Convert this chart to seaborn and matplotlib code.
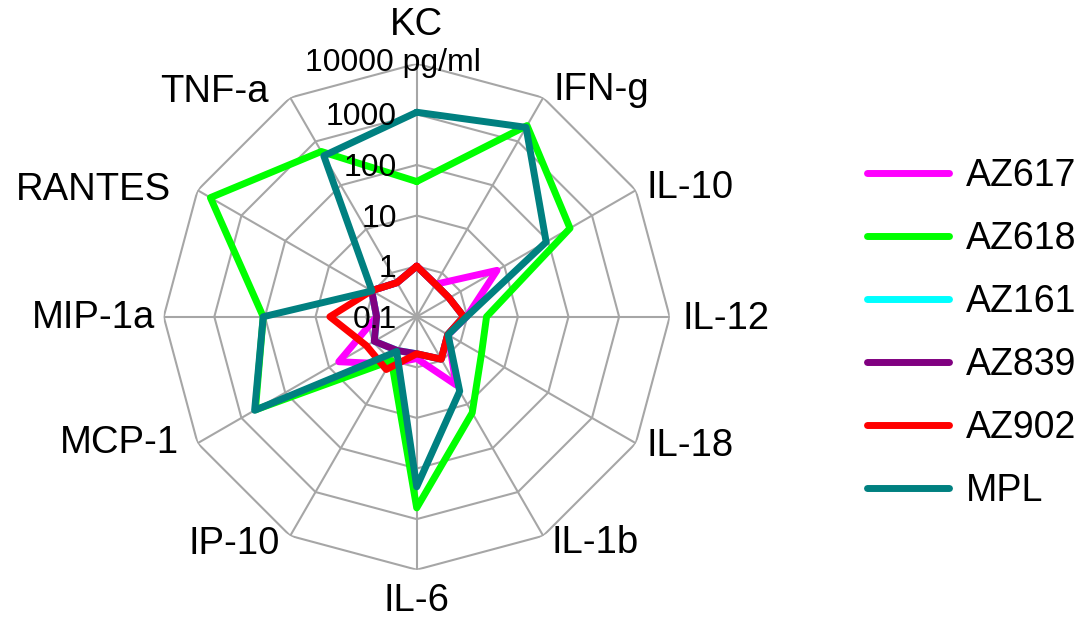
import numpy as np
import pandas as pd
import matplotlib
matplotlib.use("Agg")
import matplotlib.pyplot as plt
from matplotlib.lines import Line2D
import seaborn as sns

# Cytokine panel, clockwise from the top
categories = ["KC", "IFN-g", "IL-10", "IL-12", "IL-18", "IL-1b",
              "IL-6", "IP-10", "MCP-1", "MIP-1a", "RANTES", "TNF-a"]

# Concentrations in pg/ml
az617 = [1.0, 0.55, 6.8, 0.97, 0.52, 3.6, 0.67, 1.2, 6.0, 0.62, 1.07, 0.6]
az618 = [47, 2300, 315, 2.4, 3.0, 15.6, 600, 1.0, 480, 108, 5100, 590]
az161 = [1.0, 0.55, 0.55, 0.85, 0.51, 0.93, 0.54, 0.59, 0.93, 0.62, 1.07, 0.6]
az839 = [1.0, 0.55, 0.55, 0.85, 0.51, 0.93, 0.54, 0.59, 0.93, 0.62, 1.07, 0.6]
az902 = [1.0, 0.55, 0.55, 0.85, 0.51, 0.93, 0.54, 1.6, 1.4, 5.2, 1.07, 0.6]
mpl = [1100, 2100, 90, 0.97, 0.52, 5.0, 230, 0.62, 500, 108, 1.05, 470]

series_names = ["AZ617", "AZ618", "AZ161", "AZ839", "AZ902", "MPL"]
series_values = [az617, az618, az161, az839, az902, mpl]
series_colors = ["#ff00ff", "#00ff00", "#00ffff", "#800080", "#ff0000", "#008080"]

ring_values = [0.1, 1, 10, 100, 1000, 10000]
ring_labels = ["0.1", "1", "10", "100", "1000", "10000 pg/ml"]

sns.set_theme(style="white")
plt.rcParams["font.family"] = ["Liberation Sans", "DejaVu Sans"]
plt.rcParams["text.color"] = "black"

n = len(categories)
angles = np.arange(n) * 2 * np.pi / n
closed_angles = np.append(angles, 2 * np.pi)

rows = []
for name, vals in zip(series_names, series_values):
    for th, v in zip(closed_angles, list(vals) + [vals[0]]):
        rows.append({"theta": th, "value": v, "series": name})
df = pd.DataFrame(rows)

fig = plt.figure(figsize=(10.9, 6.28), dpi=100)
fig.patch.set_facecolor("white")
ax = fig.add_axes([0.1502, 0.0928, 0.4642, 0.8057], projection="polar")
ax.set_theta_zero_location("N")
ax.set_theta_direction(-1)
ax.set_rscale("log")
ax.set_rlim(0.1, 10000)

grid_color = "#a6a6a6"
# Polygonal web: rings for each decade and one spoke per cytokine
for rv in ring_values[1:]:
    ax.plot(closed_angles, [rv] * (n + 1), color=grid_color, lw=1.5, zorder=1)
for th in angles:
    ax.plot([th, th], [0.1, 10000], color=grid_color, lw=1.5, zorder=1)

sns.lineplot(data=df, x="theta", y="value", hue="series",
             hue_order=series_names, palette=series_colors,
             sort=False, estimator=None, linewidth=5.0,
             legend=False, ax=ax, zorder=3)

ax.set_rscale("log")
ax.set_rlim(0.1, 10000)
ax.grid(False)
ax.set_xticks([])
ax.set_yticks([])
ax.set_xlabel("")
ax.set_ylabel("")
ax.spines["polar"].set_visible(False)
ax.set_facecolor("white")

# Decade labels along the KC spoke
for rv, lab in zip(ring_values, ring_labels):
    if lab.endswith("pg/ml"):
        ax.annotate(lab, xy=(0, rv), xytext=(-112, 1), textcoords="offset pixels",
                    ha="left", va="center", fontsize=23, color="black",
                    annotation_clip=False)
    else:
        ax.annotate(lab, xy=(0, rv), xytext=(-20, -3), textcoords="offset pixels",
                    ha="right", va="center", fontsize=23, color="black",
                    annotation_clip=False)

# Category labels outside the outer ring
label_offsets = {
    "KC": (0, 39, "center"), "IFN-g": (10, 8, "left"), "IL-10": (11, 2, "left"),
    "IL-12": (13, -2, "left"), "IL-18": (11, -3, "left"), "IL-1b": (8, -7, "left"),
    "IL-6": (0, -31, "center"), "IP-10": (-10, -8, "right"), "MCP-1": (-19, 0, "right"),
    "MIP-1a": (-9, -1, "right"), "RANTES": (-27, 0, "right"), "TNF-a": (-22, 6, "right"),
}
for th, cat in zip(angles, categories):
    dx, dy, ha = label_offsets[cat]
    ax.annotate(cat, xy=(th, 10000), xytext=(dx, dy), textcoords="offset pixels",
                ha=ha, va="center", fontsize=27.5, color="black",
                annotation_clip=False)

handles = [Line2D([0], [0], color=c, lw=5.0) for c in series_colors]
leg = fig.legend(handles, series_names, loc="upper left",
                 bbox_to_anchor=(0.7954, 0.749), frameon=False, fontsize=27,
                 handlelength=2.2, handletextpad=0.45, labelspacing=0.72,
                 borderpad=0, borderaxespad=0)
for t in leg.get_texts():
    t.set_color("black")

fig.savefig("out.png", dpi=100, facecolor="white")
